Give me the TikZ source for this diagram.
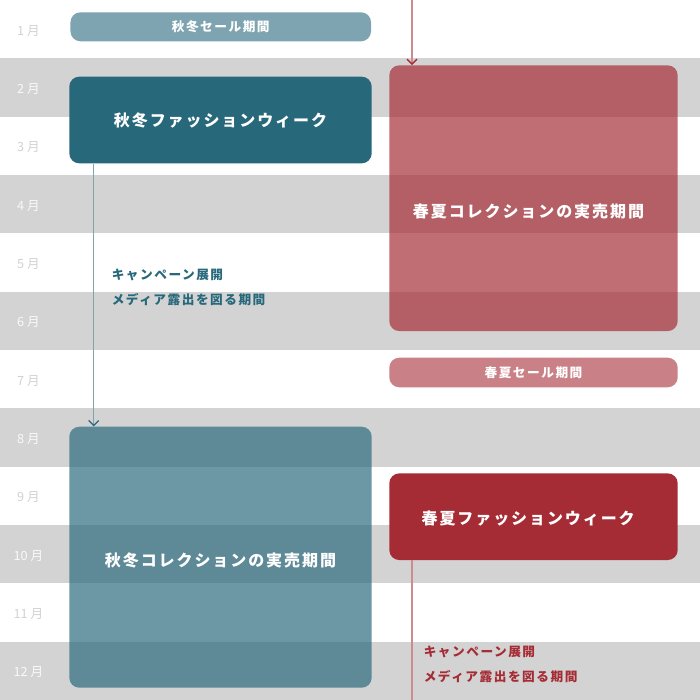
\documentclass[tikz,border=0pt]{standalone}
\usepackage{fontspec}
\setmainfont{Noto Sans CJK JP}
\newfontfamily\jpwide[LetterSpace=12]{Noto Sans CJK JP}
\usetikzlibrary{arrows.meta}
\definecolor{fwblue}{HTML}{27687B}
\definecolor{fwred}{HTML}{A52C35}
\definecolor{rowgray}{HTML}{D3D3D3}
\tikzset{
    month/.style={font=\fontsize{9.5}{9.5}\selectfont}, % month labels on the left
    box/.style={rectangle, rounded corners=7.5pt, inner sep=0pt, text=white, text opacity=1,
        font=\jpwide\bfseries\fontsize{12}{14}\selectfont}, % big rounded blocks
    salebar/.style={box, font=\jpwide\bfseries\fontsize{9.5}{11}\selectfont}, % thin sale bars
    boxtext/.style={text=white, inner sep=0pt, font=\jpwide\bfseries\fontsize{12}{14}\selectfont},
    note/.style={align=left, anchor=west, inner sep=0pt,
        font=\jpwide\bfseries\fontsize{9.5}{18.75}\selectfont},
    bluelink/.style={draw=fwblue!60, line width=1pt,
        -{Straight Barb[length=3.75pt, width=7.5pt, color=fwblue, line width=1pt]}},
    redlink/.style={draw=fwred!55, line width=1pt,
        -{Straight Barb[length=3.75pt, width=7.5pt, color=fwred, line width=1pt]}},
}

\begin{document}
\begin{tikzpicture}[x=0.75pt, y=-0.75pt]
    \useasboundingbox (0,0) rectangle (700,700);
    % Righe dei mesi
    \fill[white] (0,0) rectangle (700,700);
    \foreach \m in {2,4,...,12}
        \fill[rowgray] (0,{(\m-1)*700/12}) rectangle (700,{\m*700/12});
    \foreach \m in {1,3,...,11}
        \node[month, text=gray!35] (m\m) at (28.5,{(\m-0.5)*700/12+1.5}) {\m~月};
    \foreach \m in {2,4,...,12}
        \node[month, text=white!95!gray] (m\m) at (28.5,{(\m-0.5)*700/12+1.5}) {\m~月};

    % Autunno-inverno
    \node[salebar, fill=fwblue!60, minimum width=225.4pt, minimum height=21.75pt]
        (asale) at (220.75,26.8) {秋冬セール期間};
    \node[box, fill=fwblue, minimum width=226.8pt, minimum height=65pt]
        (afw) at (220.5,120) {秋冬ファッションウィーク};
    \node[box, fill=fwblue, fill opacity=0.68, minimum width=226.8pt, minimum height=195.75pt]
        (acol) at (220.5,557.2) {};
    \node[boxtext] (acoltext) at ([yshift=-2.5pt]acol.center) {秋冬コレクションの実売期間};
    \node[note, text=fwblue] (anote) at (111.5,287.5) {キャンペーン展開\\メディア露出を図る期間};

    % Primavera-estate
    \node[box, fill=fwred, fill opacity=0.69, minimum width=216.3pt, minimum height=199.3pt]
        (scol) at (533.5,198.2) {};
    \node[boxtext] (scoltext) at ([xshift=-3.75pt, yshift=-9.6pt]scol.center) {春夏コレクションの実売期間};
    \node[salebar, fill=fwred!60, minimum width=216.3pt, minimum height=22.2pt]
        (ssale) at (533.5,372.5) {春夏セール期間};
    \node[box, fill=fwred, minimum width=216.3pt, minimum height=65pt]
        (sfw) at (533.5,516.7) {};
    \node[boxtext] (sfwtext) at ([xshift=-4pt, yshift=-1.35pt]sfw.center) {春夏ファッションウィーク};
    \node[note, text=fwred] (snote) at (423.5,664.5) {キャンペーン展開\\メディア露出を図る期間};

    % Collegamenti
    \coordinate (stop) at (412,0);
    \coordinate (sbot) at (412,700);
    \draw[bluelink] ([xshift=18.5pt]afw.south west) -- ([xshift=18.5pt]acol.north west);
    \draw[redlink] (stop) -- (stop |- scol.north);
    \draw[draw=fwred!55, line width=1pt] (sfw.south -| sbot) -- (sbot);
\end{tikzpicture}
\end{document}
